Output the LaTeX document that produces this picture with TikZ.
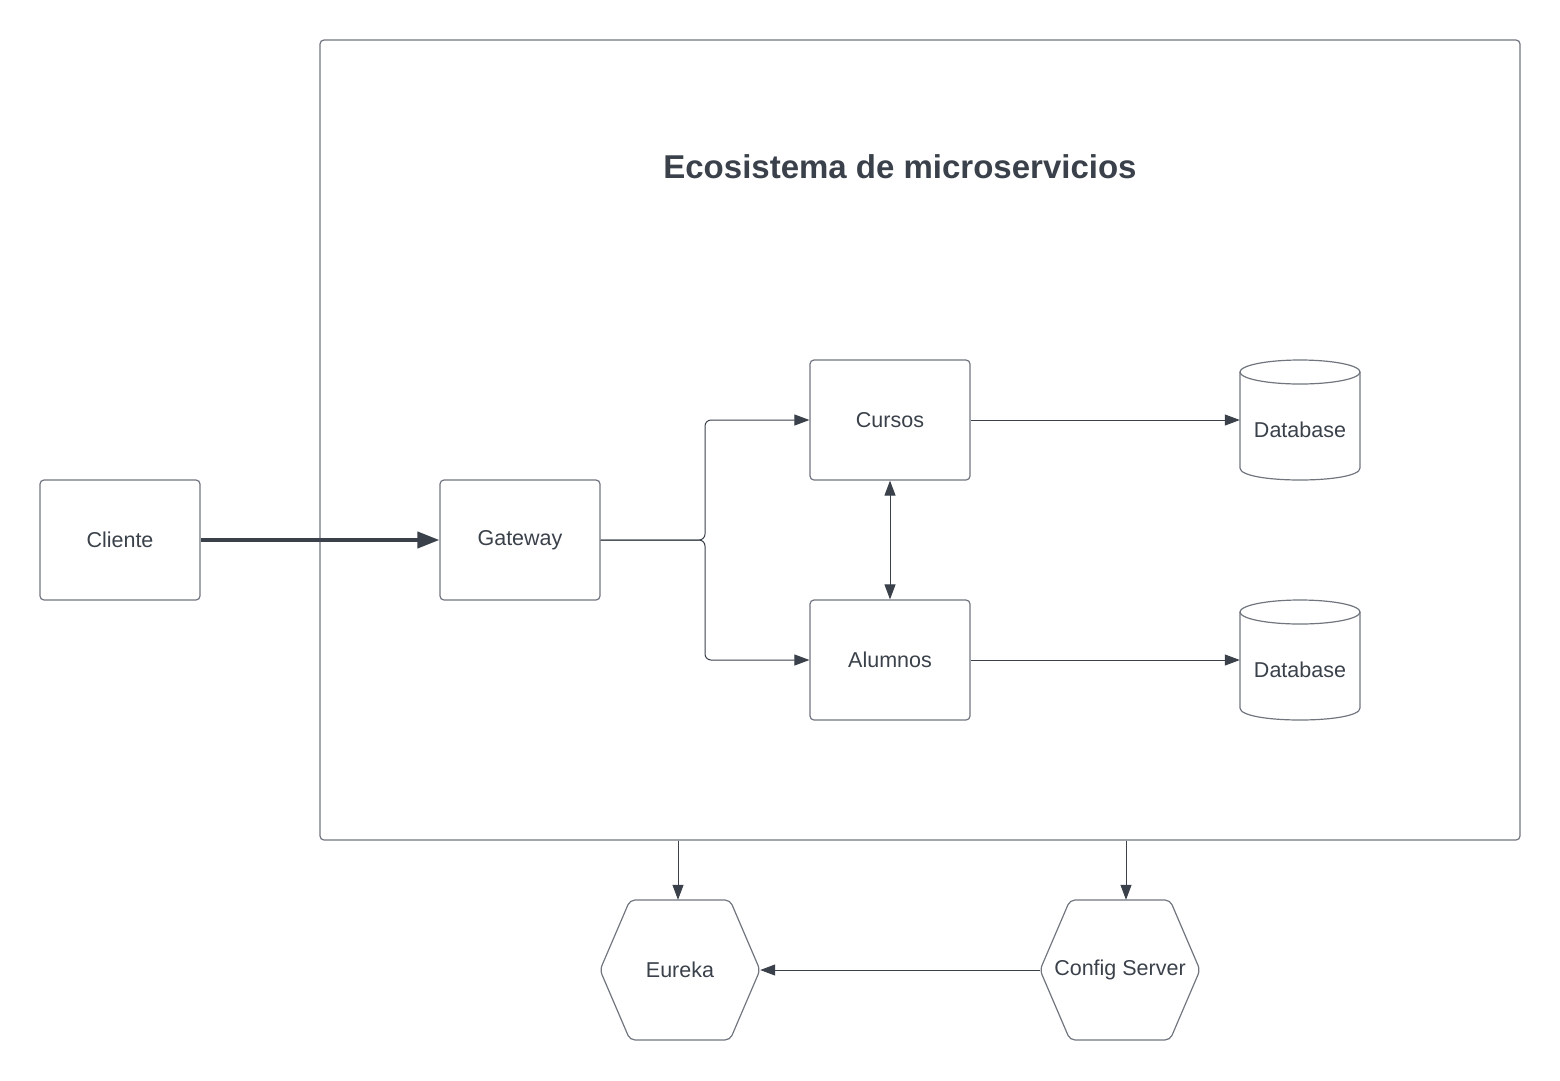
\documentclass[tikz,border=0pt]{standalone}
\usepackage{fontspec}
\setmainfont{Liberation Sans}
\usetikzlibrary{arrows.meta}
\definecolor{ink}{HTML}{3A414A}
\definecolor{edgec}{HTML}{70757E}
\tikzset{
  lbl/.style={text=ink, font=\fontsize{21.5}{26}\selectfont, inner sep=0pt},
  box/.style={lbl, draw=edgec, line width=1.2pt, rounded corners=4pt, minimum width=160pt, minimum height=120pt},
  ghost/.style={lbl, minimum width=160pt, minimum height=140pt},
  outline/.style={draw=edgec, line width=1.2pt},
  arr/.style={draw=ink, line width=1pt, -{Triangle[length=15pt,width=11pt]}},
  darr/.style={draw=ink, line width=1pt, {Triangle[length=15pt,width=11pt]}-{Triangle[length=15pt,width=11pt]}},
  thickarr/.style={draw=ink, line width=4pt, -{Triangle[length=22pt,width=16pt]}},
}
\begin{document}
\begin{tikzpicture}[x=1pt,y=-1pt]
\useasboundingbox (0,0) rectangle (1560,1080);
% container
\node[outline, rounded corners=4pt, minimum width=1200pt, minimum height=800pt, inner sep=0pt] (eco) at (920,440) {};
\node[text=ink, font=\fontsize{33}{40}\selectfont\bfseries, inner sep=0pt] (title) at (900,167) {Ecosistema de microservicios};
% boxes
\node[box] (cli) at (120,540) {Cliente};
\node[box] (gw) at (520,540) {Gateway};
\node[box] (cur) at (890,420) {Cursos};
\node[box] (alu) at (890,660) {Alumnos};
% databases
\draw[outline] (1300,372) ellipse[x radius=60, y radius=12];
\draw[outline] (1240,372) -- (1240,468) .. controls (1240,484) and (1360,484) .. (1360,468) -- (1360,372);
\node[lbl, minimum width=120pt, minimum height=120pt] (db1) at (1300,420) {};
\node[lbl] (db1t) at (1300,430) {Database};
\draw[outline] (1300,612) ellipse[x radius=60, y radius=12];
\draw[outline] (1240,612) -- (1240,708) .. controls (1240,724) and (1360,724) .. (1360,708) -- (1360,612);
\node[lbl, minimum width=120pt, minimum height=120pt] (db2) at (1300,660) {};
\node[lbl] (db2t) at (1300,670) {Database};
% hexagons
\draw[outline, rounded corners=5pt] (600,970) -- (630,900) -- (730,900) -- (760,970) -- (730,1040) -- (630,1040) -- cycle;
\node[ghost] (eur) at (680,970) {Eureka};
\draw[outline, rounded corners=5pt] (1040,970) -- (1070,900) -- (1170,900) -- (1200,970) -- (1170,1040) -- (1070,1040) -- cycle;
\node[ghost] (cfg) at (1120,970) {Config Server};
% connectors
\draw[thickarr] (cli.east) -- (gw.west);
\coordinate (split) at (705,540);
\draw[arr, rounded corners=6pt] (gw.east) -- (split) |- (cur.west);
\draw[arr, rounded corners=6pt] (gw.east) -- (split) |- (alu.west);
\draw[darr] (cur.south) -- (alu.north);
\draw[arr] (cur.east) -- (db1.west);
\draw[arr] (alu.east) -- (db2.west);
\coordinate (eurin) at ([xshift=-2pt]eur.north);
\coordinate (cfgin) at ([xshift=6pt]cfg.north);
\draw[arr] (eurin |- eco.south) -- (eurin);
\draw[arr] (cfgin |- eco.south) -- (cfgin);
\draw[arr] (cfg.west) -- (eur.east);
\end{tikzpicture}
\end{document}
